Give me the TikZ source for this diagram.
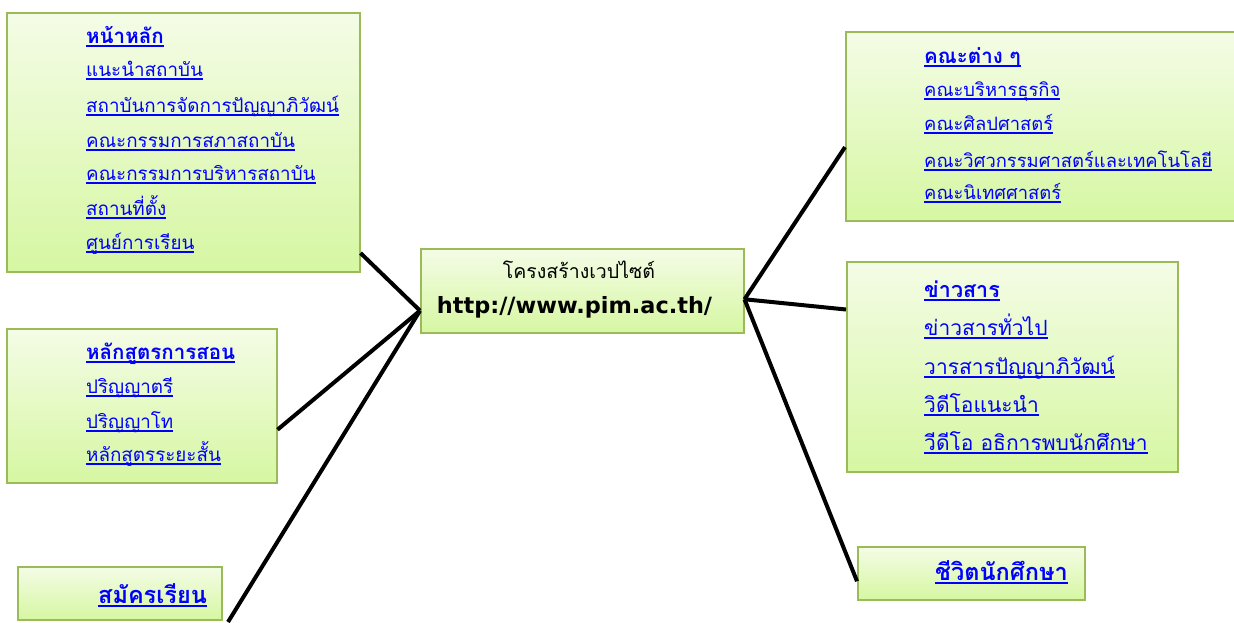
\documentclass[tikz,border=0pt]{standalone}
\usepackage{fontspec}
\newfontfamily\thai[Script=Thai]{Loma}
\newfontfamily\urlfont{DejaVu Sans}
\definecolor{gtop}{HTML}{F4FCE6}
\definecolor{gbot}{HTML}{D6F7A2}
\definecolor{gline}{HTML}{9BBB59}
\definecolor{lnk}{HTML}{0000FF}
\newsavebox\ulbox
\newcommand\ulk[1]{\sbox\ulbox{#1}\rlap{\rule[-3.5pt]{\wd\ulbox}{2pt}}\usebox\ulbox}
\tikzset{
  box/.style={draw=gline, line width=1.5pt, top color=gtop, bottom color=gbot, rectangle, inner sep=0pt, anchor=north west},
  lk/.style={anchor=base west, inner sep=0pt, text=lnk, font=\thai\fontsize{18.8}{22}\selectfont},
  lkb/.style={lk, font=\thai\fontsize{18.4}{22}\selectfont},
  lkc/.style={lk, font=\thai\fontsize{21}{24}\selectfont},
  hd/.style={lk, font=\thai\bfseries\fontsize{20.5}{24}\selectfont},
  hdc/.style={lk, font=\thai\bfseries\fontsize{21.5}{24}\selectfont},
  hdl/.style={lk, font=\thai\bfseries\fontsize{23.5}{26}\selectfont},
  conn/.style={line width=4pt, black},
}
\begin{document}
\begin{tikzpicture}[x=1pt,y=-1pt]
\useasboundingbox (0,0) rectangle (1234,622);
% boxes
\node[box, minimum width=353pt, minimum height=259pt] (b1) at (6,12) {};
\node[box, minimum width=270pt, minimum height=154pt] (b2) at (6,328) {};
\node[box, minimum width=204pt, minimum height=53pt] (b3) at (17,566) {};
\node[box, minimum width=323pt, minimum height=84pt] (c) at (420,248) {};
\node[box, minimum width=395pt, minimum height=189pt] (b5) at (845,31) {};
\node[box, minimum width=331pt, minimum height=210pt] (b6) at (846,261) {};
\node[box, minimum width=227pt, minimum height=53pt] (b7) at (857,546) {};
% center text
\node[anchor=base, inner sep=0pt, font=\thai\fontsize{19.5}{22}\selectfont] (ct1) at (579,278) {โครงสร้างเวปไซต์};
\node[anchor=base, inner sep=0pt, font=\urlfont\bfseries\fontsize{22.4}{26}\selectfont] (ct2) at (574.5,313) {http://www.pim.ac.th/};
% box 1
\node[hd] (t1a) at (86,43) {\ulk{หน้าหลัก}};
\node[lk] (t1b) at (86,76) {\ulk{แนะนำสถาบัน}};
\node[lk] (t1c) at (86,112) {\ulk{สถาบันการจัดการปัญญาภิวัฒน์}};
\node[lk] (t1d) at (86,147) {\ulk{คณะกรรมการสภาสถาบัน}};
\node[lk] (t1e) at (86,180) {\ulk{คณะกรรมการบริหารสถาบัน}};
\node[lk] (t1f) at (86,215) {\ulk{สถานที่ตั้ง}};
\node[lk] (t1g) at (86,249) {\ulk{ศูนย์การเรียน}};
% box 2
\node[hd] (t2a) at (86,359) {\ulk{หลักสูตรการสอน}};
\node[lk] (t2b) at (86,393) {\ulk{ปริญญาตรี}};
\node[lk] (t2c) at (86,428) {\ulk{ปริญญาโท}};
\node[lk] (t2d) at (86,461) {\ulk{หลักสูตรระยะสั้น}};
% box 3
\node[hdl] (t3a) at (98,603) {\ulk{สมัครเรียน}};
% box 5
\node[hd] (t5a) at (924,63) {\ulk{คณะต่าง ๆ}};
\node[lkb] (t5b) at (924,96) {\ulk{คณะบริหารธุรกิจ}};
\node[lkb] (t5c) at (924,130) {\ulk{คณะศิลปศาสตร์}};
\node[lkb] (t5d) at (924,167) {\ulk{คณะวิศวกรรมศาสตร์และเทคโนโลยี}};
\node[lkb] (t5e) at (924,199) {\ulk{คณะนิเทศศาสตร์}};
% box 6
\node[hdc] (t6a) at (924,297) {\ulk{ข่าวสาร}};
\node[lkc] (t6b) at (924,335) {\ulk{ข่าวสารทั่วไป}};
\node[lkc] (t6c) at (924,374) {\ulk{วารสารปัญญาภิวัฒน์}};
\node[lkc] (t6d) at (924,412) {\ulk{วิดีโอแนะนำ}};
\node[lkc] (t6e) at (924,450) {\ulk{วีดีโอ อธิการพบนักศึกษา}};
% box 7
\node[hdl] (t7a) at (935,580) {\ulk{ชีวิตนักศึกษา}};
% connectors
\coordinate (e3) at (228,622);
\draw[conn] (c.187) -- (b1.-32);
\draw[conn] (c.187) -- (b2.-10.5);
\draw[conn] (c.187) -- (e3);
\draw[conn] (c.-3.5) -- (b5.186.5);
\draw[conn] (c.-3.5) -- (b6.161.9);
\draw[conn] (c.-3.5) -- (b7.184.8);
\end{tikzpicture}
\end{document}
